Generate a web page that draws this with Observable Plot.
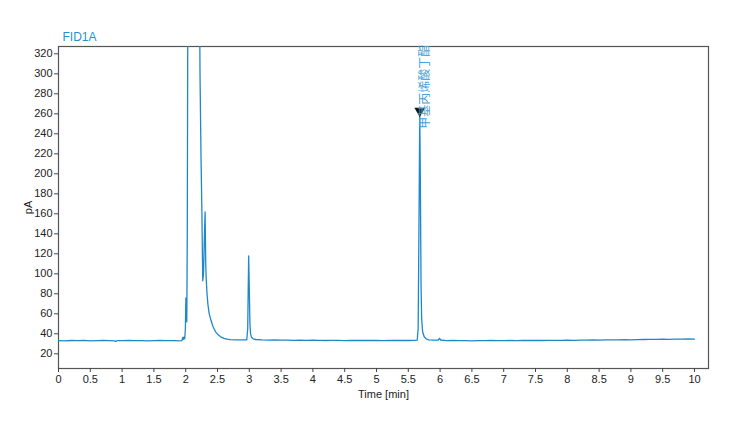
<!DOCTYPE html>
<html>
<head>
<meta charset="utf-8">
<script src="https://cdn.jsdelivr.net/npm/d3@7"></script>
<script src="https://cdn.jsdelivr.net/npm/@observablehq/plot@0.6"></script>
<style>
  html, body { margin: 0; padding: 0; background: white; }
  #wrap { width: 746px; height: 423px; position: relative; }
</style>
</head>
<body>
<div id="wrap"></div>
<script>
// Retention time (min)
const times = [
  0, 0.1, 0.2, 0.3, 0.4, 0.5, 0.6, 0.7, 0.8, 0.88, 0.9, 0.92, 1.0, 1.1, 1.2, 1.3, 1.4, 1.5, 1.6, 1.7, 1.8, 1.9, 1.94,
  1.955, 1.965, 1.975, 1.985, 1.995, 2.003, 2.01, 2.017, 2.025, 2.035, 2.06, 2.1, 2.15, 2.19, 2.21, 2.225, 2.24, 2.255,
  2.268, 2.28, 2.295, 2.305, 2.315, 2.322, 2.335, 2.35, 2.37, 2.4, 2.43, 2.47, 2.51, 2.55, 2.6, 2.65, 2.7, 2.8, 2.9, 2.96,
  2.975, 2.99, 3.0, 3.01, 3.02, 3.035, 3.06, 3.1, 3.2, 3.3, 3.4, 3.5, 3.6, 3.7, 3.8, 3.9, 4.0, 4.1, 4.2, 4.3, 4.4, 4.5,
  4.6, 4.7, 4.8, 4.9, 5.0, 5.1, 5.2, 5.3, 5.4, 5.5, 5.6, 5.64, 5.655, 5.668, 5.68, 5.69, 5.7, 5.71, 5.725, 5.75, 5.78,
  5.82, 5.9, 5.97, 5.99, 6.01, 6.1, 6.2, 6.3, 6.4, 6.5, 6.6, 6.7, 6.8, 6.9, 7.0, 7.1, 7.2, 7.3, 7.4, 7.5, 7.6, 7.7, 7.8,
  7.9, 8.0, 8.1, 8.2, 8.3, 8.4, 8.5, 8.6, 8.7, 8.8, 8.9, 9.0, 9.1, 9.2, 9.3, 9.4, 9.5, 9.6, 9.7, 9.8, 9.9, 10.0
];
// FID signal (pA)
const signal = [
  33.2, 33.0, 33.3, 33.1, 33.4, 33.0, 33.2, 33.3, 33.1, 33.0, 32.4, 33.1, 33.2, 33.3, 33.1, 33.2, 33.0, 33.2, 33.3, 33.1, 33.2, 33.0, 33.1,
  36.5, 34.5, 36.8, 35.0, 45, 76, 60, 52, 140, 420, 900, 1300, 1200, 800, 450, 300, 220, 160,
  93, 100, 140, 162, 110, 96, 80, 69, 60, 53, 47, 42, 39, 37, 35.5, 34.6, 34.2, 34.0, 33.9, 33.9,
  45, 118, 85, 50, 40, 36.5, 35.0, 34.3, 33.9, 33.7, 33.8, 33.6, 33.7, 33.5, 33.6, 33.4, 33.6, 33.5, 33.3, 33.5, 33.4, 33.2,
  33.4, 33.3, 33.5, 33.3, 33.4, 33.2, 33.4, 33.3, 33.5, 33.3, 33.4, 33.6, 45, 150, 262, 190, 90, 55, 42, 37, 35,
  34.0, 33.6, 33.7, 35.5, 33.8, 33.2, 33.3, 33.1, 33.2, 33.0, 33.2, 33.1, 33.3, 33.1, 33.2, 33.3, 33.2, 33.4, 33.3, 33.4, 33.3, 33.5, 33.4,
  33.5, 33.6, 33.5, 33.7, 33.6, 33.8, 33.7, 33.9, 34.0, 33.9, 34.1, 34.0, 34.2, 34.3, 34.5, 34.4, 34.6, 34.5, 34.7, 34.6, 34.8, 34.7
];
const xTicks = [0, 0.5, 1, 1.5, 2, 2.5, 3, 3.5, 4, 4.5, 5, 5.5, 6, 6.5, 7, 7.5, 8, 8.5, 9, 9.5, 10];
const yTicks = [20, 40, 60, 80, 100, 120, 140, 160, 180, 200, 220, 240, 260, 280, 300, 320];
const peakNames = ["甲基丙烯酸丁酯"];
const peakTimes = [5.68];
const peakHeights = [263];
const signalName = ["FID1A"];

const data = times.map((t, i) => ({t, v: signal[i]}));
const peaks = peakNames.map((n, i) => ({name: n, t: peakTimes[i], v: peakHeights[i]}));

const chart = Plot.plot({
  width: 746,
  height: 423,
  marginLeft: 58,
  marginRight: 38,
  marginTop: 46,
  marginBottom: 55,
  style: {fontFamily: "Liberation Sans, Arial, sans-serif", fontSize: "11px", color: "#222", background: "white"},
  x: {domain: [0, 10.22]},
  y: {domain: [5.3, 327.3]},
  marks: [
    Plot.frame({stroke: "#555", strokeWidth: 1.2}),
    Plot.axisX({ticks: xTicks, tickFormat: d => String(d), tickSize: 4, tickPadding: 3, stroke: "#444",
      label: "Time [min]", labelAnchor: "center", labelArrow: "none", labelOffset: 29, fontSize: 11}),
    Plot.axisY({ticks: yTicks, tickSize: 4, tickPadding: 2, stroke: "#444",
      label: "pA", labelAnchor: "center", labelArrow: "none", labelOffset: 34, fontSize: 11}),
    Plot.line(data, {x: "t", y: "v", stroke: "#1f88c9", strokeWidth: 1.3, clip: true}),
    Plot.dot(peaks, {x: "t", y: "v", symbol: "triangle", rotate: 180, r: 4, fill: "#111", stroke: "none"}),
    Plot.text(peaks, {x: d => d.t + 0.09, y: 245, text: "name", rotate: -90, textAnchor: "start",
      fill: "#4a9fd4", fontSize: 12, fontFamily: "Noto Sans CJK SC, sans-serif"}),
    Plot.text(signalName, {frameAnchor: "top-left", dx: 4, dy: -14, text: d => d, fill: "#2a8fd0", fontSize: 12, textAnchor: "start"})
  ]
});
document.getElementById("wrap").appendChild(chart);
</script>
</body>
</html>
